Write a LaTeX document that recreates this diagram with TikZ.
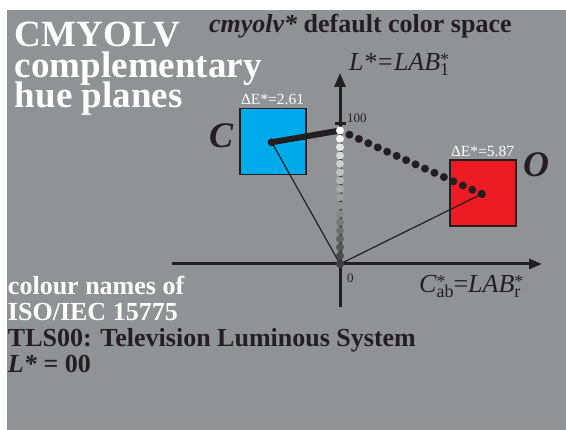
\documentclass[tikz,border=0pt]{standalone}
\usepackage{fontspec}
\setmainfont{Liberation Serif}
\usetikzlibrary{arrows.meta,calc}
\definecolor{bg}{RGB}{145,146,150}
\definecolor{ink}{RGB}{35,31,32}
\definecolor{cyanfill}{RGB}{0,170,235}
\definecolor{redfill}{RGB}{237,28,36}
\newcommand\supsub[2]{\raisebox{-5pt}{\fontsize{18}{18}\selectfont\upshape\begin{tabular}[b]{@{}l@{}}#1\\[-8pt]#2\end{tabular}}}
\tikzset{
 lbl/.style={anchor=base west, inner sep=0pt, outer sep=0pt},
 titletxt/.style={lbl, text=white, font=\fontsize{37}{37}\selectfont\bfseries},
 info/.style={lbl, text=ink, font=\fontsize{26}{26}\selectfont\bfseries},
 infow/.style={info, text=white},
 axislbl/.style={lbl, text=ink, font=\fontsize{26}{26}\selectfont},
 big/.style={lbl, text=ink, font=\fontsize{36}{36}\selectfont\bfseries\itshape},
 small/.style={lbl, text=ink, font=\fontsize{13}{13}\selectfont},
 de/.style={lbl, text=white, font=\fontsize{15.5}{15.5}\selectfont},
 sq/.style={draw=ink, line width=1.3pt, minimum width=66pt, minimum height=66pt, inner sep=0pt},
 axis/.style={line width=3pt, draw=ink},
 thinline/.style={draw=ink, line width=1.2pt},
}
\begin{document}
\begin{tikzpicture}[x=1pt,y=-1pt]
\useasboundingbox (0,0) rectangle (566,430);
\fill[bg] (7,10) rectangle (566,430);

% titles
\node[titletxt] (t1) at (15,47) {CMYOLV};
\node[titletxt] (t2) at (15,78) {complementary};
\node[titletxt] (t3) at (15,108) {hue planes};
\node[info] (hdr) at (209,33) {\textit{cmyolv*} default color space};

% squares
\node[sq, fill=cyanfill] (csq) at (273,141.5) {};
\node[sq, fill=redfill] (rsq) at (483,193) {};
\node[de] (dec) at (241,105) {ΔE*=2.61};
\node[de] (der) at (451,157) {ΔE*=5.87};
\node[big] (cl) at (209,148) {C};
\node[big] (ol) at (523,177) {O};

% axes
\coordinate (O) at (340,264);
\coordinate (xs) at (172,264);
\coordinate (xe) at (542,264);
\coordinate (ys) at (340,307);
\coordinate (ye) at (340,73);
\coordinate (tka) at (335,123.5);
\coordinate (tkb) at (346,123.5);
\draw[axis,-{Triangle[length=13pt,width=10pt]}] (xs) -- (xe);
\draw[axis,-{Triangle[length=14pt,width=11pt]}] (ys) -- (ye);
\draw[axis] (tka) -- (tkb);
\node[small] (l100) at (347,123) {100};
\node[small] (l0) at (347,283) {0};
\node[axislbl] (ylab) at (349,71) {\textit{L*=LAB}\supsub{*}{1}};
\node[axislbl] (xlab) at (419,293) {\textit{C}\supsub{*}{ab}=\textit{LAB}\supsub{*}{r}};

% colour points
\coordinate (cc) at (271.7,142.3);
\coordinate (rc) at (481.7,194);
\coordinate (top) at (340,130.5);
\draw[thinline] (cc) -- (O);
\draw[thinline] (rc) -- (O);
\draw[ink, line width=6pt, line cap=round] (cc) -- (top);
\foreach \i in {1,...,15} {
  \fill[ink] ($(top)!\i/15!(rc)$) circle (4pt);
}
\foreach \i in {0,...,16} {
  \pgfmathsetmacro\p{\i*75/16}
  \fill[black!\p!white] ($(top)!\i/16!(O)$) circle (4pt);
}
\fill[ink] (cc) circle (4pt);
\fill[ink] (rc) circle (4pt);

% bottom-left text
\node[infow] (b1) at (8,295) {colour names of};
\node[infow] (b2) at (8,321) {ISO/IEC 15775};
\node[info] (b3) at (8,347) {TLS00: Television Luminous System};
\node[info] (b4) at (8,373) {\textit{L*} = 00};
\end{tikzpicture}
\end{document}
